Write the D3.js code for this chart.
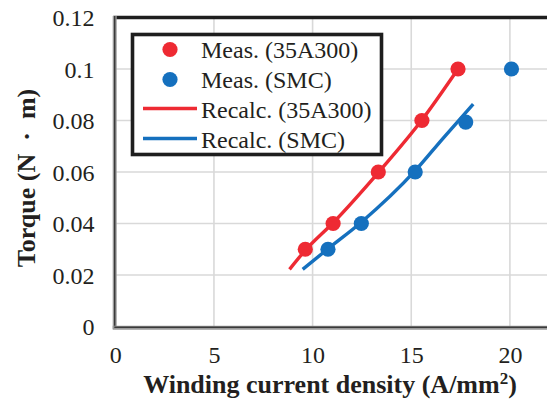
<!DOCTYPE html>
<html>
<head>
<meta charset="utf-8">
<script src="https://cdn.jsdelivr.net/npm/d3@7/dist/d3.min.js"></script>
<style>
  html, body { margin: 0; padding: 0; background: #fff; }
  svg { display: block; }
  svg text { font-family: "Liberation Serif", "DejaVu Serif", serif; fill: #231f20; }
</style>
</head>
<body>
<svg id="chart" width="547" height="399"></svg>
<script>
// Measured torque vs winding current density
const meas35X = [9.63, 11.04, 13.33, 15.54, 17.37];
const meas35Y = [0.03, 0.04, 0.06, 0.08, 0.1];
const measSmcX = [10.78, 12.47, 15.2, 17.76, 20.08];
const measSmcY = [0.03, 0.04, 0.06, 0.0794, 0.1];

// Recalculated curves
const recalc35X = [8.83, 9.63, 11.04, 13.33, 15.54, 17.37];
const recalc35Y = [0.0222, 0.0296, 0.0403, 0.0598, 0.0802, 0.1];
const recalcSmcX = [9.5, 10.78, 12.47, 15.2, 16.6, 18.14];
const recalcSmcY = [0.0222, 0.0302, 0.0405, 0.0605, 0.073, 0.0864];

const xGrid = [5, 10, 15, 20, 25];
const xTickLabels = [0, 5, 10, 15, 20];
const yTicks = [0, 0.02, 0.04, 0.06, 0.08, 0.1, 0.12];
const yTickLabels = ["0", "0.02", "0.04", "0.06", "0.08", "0.1", "0.12"];

const legendItems = [
  { label: "Meas. (35A300)", kind: "dot", color: "#ee2a33" },
  { label: "Meas. (SMC)", kind: "dot", color: "#1570be" },
  { label: "Recalc. (35A300)", kind: "line", color: "#ee2a33" },
  { label: "Recalc. (SMC)", kind: "line", color: "#1570be" }
];

const RED = "#ee2a33", BLUE = "#1570be";
const SERIF = '"Liberation Serif", "DejaVu Serif", serif';
const svg = d3.select("#chart");

const plotLeft = 115.3, plotTop = 17.5, plotBottom = 326.5;
const x = d3.scaleLinear().domain([0, 25]).range([plotLeft, plotLeft + 25 * 19.73]);
const y = d3.scaleLinear().domain([0, 0.12]).range([plotBottom, plotTop]);

// gridlines
const grid = svg.append("g");
grid.selectAll("line.v").data(xGrid).join("line")
  .attr("x1", d => x(d)).attr("x2", d => x(d))
  .attr("y1", plotTop).attr("y2", plotBottom)
  .attr("stroke", "#d9d9d9").attr("stroke-width", 1.6);
grid.selectAll("line.h").data(yTicks.slice(1)).join("line")
  .attr("x1", plotLeft).attr("x2", 547)
  .attr("y1", d => y(d)).attr("y2", d => y(d))
  .attr("stroke", "#d9d9d9").attr("stroke-width", 1.6);

// plot frame
svg.append("line").attr("x1", plotLeft - 2).attr("x2", 547).attr("y1", plotTop).attr("y2", plotTop)
  .attr("stroke", "#1e1e1e").attr("stroke-width", 3.6);
svg.append("line").attr("x1", plotLeft - 0.6).attr("x2", plotLeft - 0.6).attr("y1", plotTop - 1.5).attr("y2", plotBottom + 2.5)
  .attr("stroke", "#9a9a9a").attr("stroke-width", 4);
svg.append("line").attr("x1", plotLeft - 0.6).attr("x2", plotLeft - 0.6).attr("y1", plotTop - 1.5).attr("y2", plotBottom + 1)
  .attr("stroke", "#3a3a3a").attr("stroke-width", 1.4);
svg.append("line").attr("x1", plotLeft - 2.6).attr("x2", 547).attr("y1", plotBottom + 1.2).attr("y2", plotBottom + 1.2)
  .attr("stroke", "#9a9a9a").attr("stroke-width", 4);
svg.append("line").attr("x1", plotLeft - 1).attr("x2", 547).attr("y1", plotBottom + 0.8).attr("y2", plotBottom + 0.8)
  .attr("stroke", "#3a3a3a").attr("stroke-width", 1.4);

// tick labels via d3 axes
const xAxis = d3.axisBottom(x).tickValues(xTickLabels).tickSize(0).tickPadding(0).tickFormat(d3.format("d"));
const gx = svg.append("g").attr("transform", `translate(0,${plotBottom})`).call(xAxis)
  .attr("font-family", SERIF);
gx.select(".domain").remove();
gx.selectAll("text").attr("y", 36).attr("dy", 0).attr("font-size", 24).attr("fill", "#231f20");

const yAxis = d3.axisLeft(y).tickValues(yTicks).tickSize(0).tickPadding(0)
  .tickFormat((d, i) => yTickLabels[i]);
const gy = svg.append("g").attr("transform", `translate(94.5,0)`).call(yAxis)
  .attr("font-family", SERIF);
gy.select(".domain").remove();
gy.selectAll("text").attr("x", 0).attr("dy", "0.34em").attr("font-size", 24).attr("fill", "#231f20");

// axis titles
const xt = svg.append("text").attr("x", 330).attr("y", 393).attr("text-anchor", "middle")
  .attr("font-size", 26).attr("font-weight", "bold");
xt.append("tspan").text("Winding current density (A/mm");
xt.append("tspan").attr("font-size", 17).attr("dy", -9).text("2");
xt.append("tspan").attr("dy", 9).text(")");

const yt = svg.append("text").attr("transform", "translate(35,178) rotate(-90)").attr("text-anchor", "middle")
  .attr("font-size", 26).attr("font-weight", "bold");
yt.append("tspan").text("Torque (N \u00a0·\u00a0 m)");

// curves and markers
const line = d3.line().x(d => x(d[0])).y(d => y(d[1])).curve(d3.curveMonotoneX);
const plot = svg.append("g");

const pts35 = meas35X.map((v, i) => [v, meas35Y[i]]);
const ptsSmc = measSmcX.map((v, i) => [v, measSmcY[i]]);
plot.selectAll("circle.r").data(pts35).join("circle")
  .attr("cx", d => x(d[0])).attr("cy", d => y(d[1])).attr("r", 7.6).attr("fill", RED);
plot.selectAll("circle.b").data(ptsSmc).join("circle")
  .attr("cx", d => x(d[0])).attr("cy", d => y(d[1])).attr("r", 7.6).attr("fill", BLUE);

plot.append("path").datum(recalc35X.map((v, i) => [v, recalc35Y[i]]))
  .attr("d", line).attr("fill", "none").attr("stroke", RED).attr("stroke-width", 3.4);
plot.append("path").datum(recalcSmcX.map((v, i) => [v, recalcSmcY[i]]))
  .attr("d", line).attr("fill", "none").attr("stroke", BLUE).attr("stroke-width", 3.4);

// legend
const lg = svg.append("g");
lg.append("rect").attr("x", 132.5).attr("y", 34.5).attr("width", 249).attr("height", 120)
  .attr("fill", "#fff").attr("stroke", "#1e1e1e").attr("stroke-width", 3.6);
legendItems.forEach((it, i) => {
  const cy = 49.5 + i * 30;
  if (it.kind === "dot") {
    lg.append("circle").attr("cx", 170).attr("cy", cy).attr("r", 7.6).attr("fill", it.color);
  } else {
    lg.append("line").attr("x1", 143).attr("x2", 197).attr("y1", cy - 1).attr("y2", cy - 1)
      .attr("stroke", it.color).attr("stroke-width", 3.4);
  }
  lg.append("text").attr("x", 201).attr("y", cy + 8).attr("font-size", 24).text(it.label);
});
</script>
</body>
</html>
